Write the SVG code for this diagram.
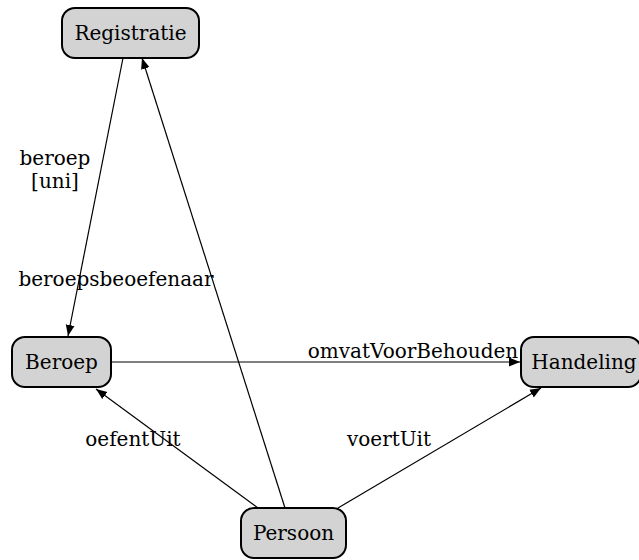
<svg xmlns="http://www.w3.org/2000/svg" width="639" height="560" viewBox="0 0 639 560">
  <defs>
    <marker id="arrow" viewBox="0 0 10 10" refX="10" refY="5" markerWidth="11" markerHeight="11" markerUnits="userSpaceOnUse" orient="auto">
      <path d="M0,1 L10,5 L0,9 z" fill="#000"/>
    </marker>
    <style>
      .node rect { fill: #d3d3d3; stroke: #000; stroke-width: 2; }
      .node text { font-family: "DejaVu Serif", "Liberation Serif", serif; font-size: 20px; text-anchor: middle; fill: #000; }
      .edge line { stroke: #000; stroke-width: 1.2; marker-end: url(#arrow); }
      .lbl { font-family: "DejaVu Serif", "Liberation Serif", serif; font-size: 20px; text-anchor: middle; fill: #000; }
    </style>
  </defs>
  <rect width="639" height="560" fill="#fff"/>

  <g id="edges">
    <g class="edge"><line x1="123" y1="58" x2="68" y2="336"/></g>
    <g class="edge"><line x1="285" y1="508" x2="142" y2="58"/></g>
    <g class="edge"><line x1="111" y1="362" x2="520" y2="362"/></g>
    <g class="edge"><line x1="258" y1="508" x2="96" y2="389"/></g>
    <g class="edge"><line x1="338" y1="508" x2="541" y2="388"/></g>
    <text class="lbl" x="55" y="165">beroep</text>
    <text class="lbl" x="55" y="188">[uni]</text>
    <text class="lbl" x="116" y="286">beroepsbeoefenaar</text>
    <text class="lbl" x="413" y="358">omvatVoorBehouden</text>
    <text class="lbl" x="133" y="446">oefentUit</text>
    <text class="lbl" x="389" y="446">voertUit</text>
  </g>

  <g id="registratie" class="node">
    <rect x="62" y="8" width="137" height="50" rx="13"/>
    <text x="130.5" y="40">Registratie</text>
  </g>
  <g id="beroep" class="node">
    <rect x="12" y="337" width="99" height="50" rx="13"/>
    <text x="61.5" y="369">Beroep</text>
  </g>
  <g id="handeling" class="node">
    <rect x="521" y="337" width="120" height="50" rx="13"/>
    <text x="584" y="369">Handeling</text>
  </g>
  <g id="persoon" class="node">
    <rect x="241" y="508" width="105" height="50" rx="13"/>
    <text x="293.5" y="540">Persoon</text>
  </g>
</svg>
